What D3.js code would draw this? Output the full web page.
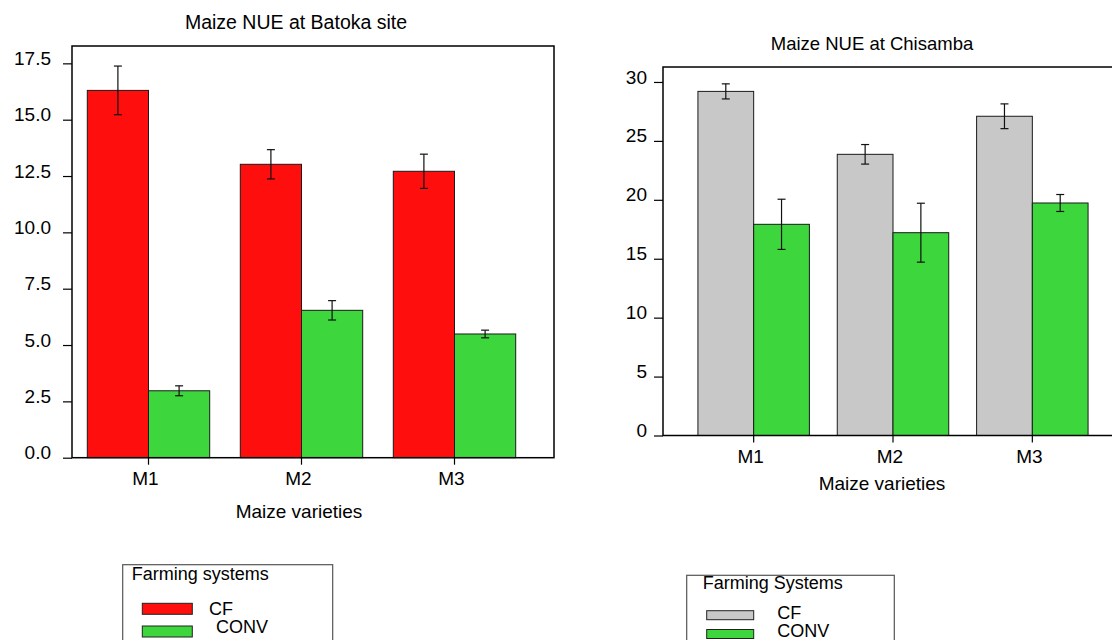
<!DOCTYPE html>
<html>
<head>
<meta charset="utf-8">
<script src="https://cdn.jsdelivr.net/npm/d3@7"></script>
<style>
  html, body { margin: 0; padding: 0; background: #fff; }
  svg { display: block; }
  text { font-family: "Liberation Sans", Arial, sans-serif; fill: #000; }
</style>
</head>
<body>
<svg id="chart" width="1112" height="640"></svg>
<script>
// ---------------- data ----------------
const varieties = ["M1", "M2", "M3"];
const systems = ["CF", "CONV"];

// Batoka site
const batokaCF = [16.3, 13.02, 12.71];
const batokaCFErr = [1.08, 0.65, 0.76];
const batokaCONV = [2.97, 6.54, 5.49];
const batokaCONVErr = [0.22, 0.43, 0.17];
const batokaTicks = [0, 2.5, 5, 7.5, 10, 12.5, 15, 17.5];

// Chisamba site
const chisambaCF = [29.2, 23.86, 27.09];
const chisambaCFErr = [0.64, 0.83, 1.05];
const chisambaCONV = [17.92, 17.21, 19.73];
const chisambaCONVErr = [2.13, 2.5, 0.72];
const chisambaTicks = [0, 5, 10, 15, 20, 25, 30];

const svg = d3.select("#chart");

function drawPanel(cfg) {
  const g = svg.append("g");
  const y = d3.scaleLinear().domain([0, cfg.yMax]).range([cfg.bottom, cfg.top]);
  const x0 = d3.scaleBand().domain(varieties).range(cfg.bandRange).paddingInner(0).paddingOuter(0);
  const x1 = d3.scaleBand().domain(systems)
    .range([x0.bandwidth() * 0.1, x0.bandwidth() * 0.9]).padding(0);

  const rows = varieties.map((v, i) => ({
    v,
    vals: [
      { s: "CF", val: cfg.cf[i], err: cfg.cfErr[i] },
      { s: "CONV", val: cfg.conv[i], err: cfg.convErr[i] }
    ]
  }));

  // bars
  const grp = g.selectAll("g.grp").data(rows).join("g")
    .attr("transform", d => `translate(${x0(d.v)},0)`);
  grp.selectAll("rect").data(d => d.vals).join("rect")
    .attr("x", d => x1(d.s))
    .attr("y", d => y(d.val))
    .attr("width", x1.bandwidth())
    .attr("height", d => y(0) - y(d.val))
    .attr("fill", d => cfg.colors[d.s])
    .attr("stroke", "#1a1a1a")
    .attr("stroke-width", 1);

  // error bars
  const eb = grp.selectAll("g.eb").data(d => d.vals).join("g").attr("class", "eb");
  eb.append("line")
    .attr("x1", d => x1(d.s) + x1.bandwidth() / 2)
    .attr("x2", d => x1(d.s) + x1.bandwidth() / 2)
    .attr("y1", d => y(d.val + d.err))
    .attr("y2", d => y(d.val - d.err))
    .attr("stroke", "#111").attr("stroke-width", 1.2);
  eb.append("line")
    .attr("x1", d => x1(d.s) + x1.bandwidth() / 2 - 4)
    .attr("x2", d => x1(d.s) + x1.bandwidth() / 2 + 4)
    .attr("y1", d => y(d.val + d.err))
    .attr("y2", d => y(d.val + d.err))
    .attr("stroke", "#111").attr("stroke-width", 1.2);
  eb.append("line")
    .attr("x1", d => x1(d.s) + x1.bandwidth() / 2 - 4)
    .attr("x2", d => x1(d.s) + x1.bandwidth() / 2 + 4)
    .attr("y1", d => y(d.val - d.err))
    .attr("y2", d => y(d.val - d.err))
    .attr("stroke", "#111").attr("stroke-width", 1.2);

  // frame
  g.append("rect")
    .attr("x", cfg.frameLeft).attr("y", cfg.top)
    .attr("width", cfg.frameRight - cfg.frameLeft)
    .attr("height", cfg.bottom - cfg.top)
    .attr("fill", "none").attr("stroke", "#000").attr("stroke-width", 1.5);

  // y axis
  const ya = g.append("g")
    .attr("transform", `translate(${cfg.frameLeft},0)`)
    .call(d3.axisLeft(y).tickValues(cfg.ticks).tickFormat(cfg.fmt)
      .tickSize(cfg.yTickLen).tickPadding(cfg.yTickPad));
  ya.select(".domain").remove();
  ya.selectAll(".tick line").attr("stroke", "#000").attr("stroke-width", 1.2);
  ya.selectAll(".tick text")
    .attr("y", -5)
    .style("font-size", "19px")
    .style("font-family", "'Liberation Sans', Arial, sans-serif")
    .attr("fill", "#000");

  // x axis
  const xa = g.append("g")
    .attr("transform", `translate(0,${cfg.bottom})`)
    .call(d3.axisBottom(x0).tickSize(7).tickPadding(0));
  xa.select(".domain").remove();
  xa.selectAll(".tick line").attr("stroke", "#000").attr("stroke-width", 1.2);
  xa.selectAll(".tick text")
    .attr("y", 21).attr("dy", "0.35em")
    .attr("x", -3)
    .style("font-size", "19px")
    .style("font-family", "'Liberation Sans', Arial, sans-serif")
    .attr("fill", "#000");

  // titles
  g.append("text")
    .attr("x", cfg.titleX).attr("y", cfg.titleY)
    .attr("text-anchor", "middle").attr("dy", "0.35em")
    .style("font-size", cfg.titleSize + "px")
    .text(cfg.title);
  g.append("text")
    .attr("x", cfg.xLabelX).attr("y", cfg.xLabelY)
    .attr("text-anchor", "middle").attr("dy", "0.35em")
    .style("font-size", "19px")
    .text("Maize varieties");

  // legend
  const L = cfg.legend;
  const lg = g.append("g");
  lg.append("rect")
    .attr("x", L.x).attr("y", L.y).attr("width", L.w).attr("height", 120)
    .attr("fill", "#fff").attr("stroke", "#555").attr("stroke-width", 1.2);
  lg.append("text")
    .attr("x", L.x + L.titleDx).attr("y", L.titleY).attr("dy", "0.35em")
    .style("font-size", "18px").text(L.title);
  systems.forEach((s, i) => {
    lg.append("rect")
      .attr("x", L.swX).attr("y", L.swY[i])
      .attr("width", L.swW).attr("height", L.swH)
      .attr("fill", cfg.colors[s]).attr("stroke", "#222").attr("stroke-width", 1);
    lg.append("text")
      .attr("x", L.txtX[i]).attr("y", L.txtY[i]).attr("dy", "0.35em")
      .style("font-size", "18px").text(s);
  });
}

drawPanel({
  cf: batokaCF, cfErr: batokaCFErr, conv: batokaCONV, convErr: batokaCONVErr,
  ticks: batokaTicks, fmt: d3.format(".1f"),
  yMax: 18.27, top: 46, bottom: 457.7,
  frameLeft: 72, frameRight: 554, bandRange: [72, 531],
  yTickLen: 9, yTickPad: 12,
  colors: { CF: "#ff0e0e", CONV: "#3dd63d" },
  title: "Maize NUE at Batoka site", titleX: 296, titleY: 22, titleSize: 19.5,
  xLabelX: 299, xLabelY: 511.5,
  legend: {
    x: 122.7, y: 564.7, w: 210, title: "Farming systems", titleDx: 9, titleY: 573.5,
    swX: 142.3, swW: 50, swH: 11, swY: [603.3, 626],
    txtX: [209, 216], txtY: [608.5, 626.5]
  }
});

drawPanel({
  cf: chisambaCF, cfErr: chisambaCFErr, conv: chisambaCONV, convErr: chisambaCONVErr,
  ticks: chisambaTicks, fmt: d3.format("d"),
  yMax: 31.27, top: 67, bottom: 435.5,
  frameLeft: 663, frameRight: 1130, bandRange: [684, 1102],
  yTickLen: 9, yTickPad: 7,
  colors: { CF: "#c8c8c8", CONV: "#3dd63d" },
  title: "Maize NUE at Chisamba", titleX: 872, titleY: 44, titleSize: 18.5,
  xLabelX: 882, xLabelY: 483.3,
  legend: {
    x: 686.7, y: 575.3, w: 207.6, title: "Farming Systems", titleDx: 16, titleY: 582.7,
    swX: 706.7, swW: 47, swH: 9, swY: [610.7, 629.5],
    txtX: [777.3, 777.3], txtY: [612.7, 630.7]
  }
});
</script>
</body>
</html>
